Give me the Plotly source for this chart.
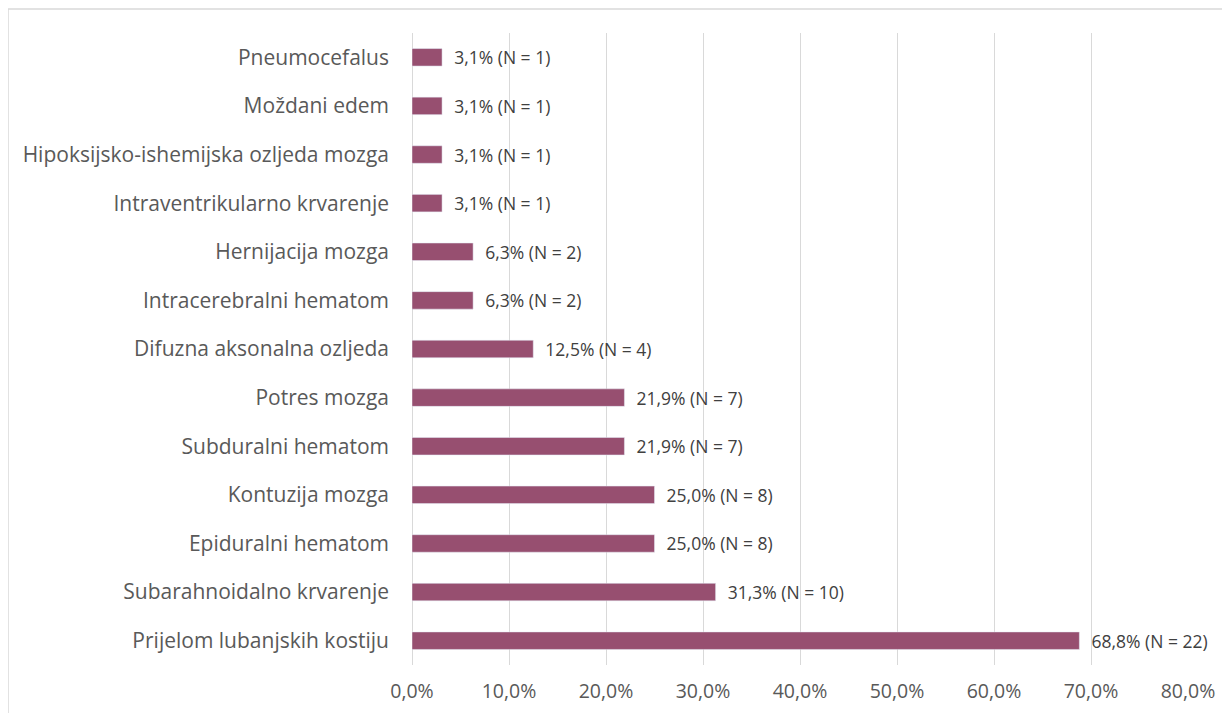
import plotly.graph_objects as go

# categories top to bottom
categories = [
    "Pneumocefalus",
    "Moždani edem",
    "Hipoksijsko-ishemijska ozljeda mozga",
    "Intraventrikularno krvarenje",
    "Hernijacija mozga",
    "Intracerebralni hematom",
    "Difuzna aksonalna ozljeda",
    "Potres mozga",
    "Subduralni hematom",
    "Kontuzija mozga",
    "Epiduralni hematom",
    "Subarahnoidalno krvarenje",
    "Prijelom lubanjskih kostiju",
]
percent = [3.1, 3.1, 3.1, 3.1, 6.3, 6.3, 12.5, 21.9, 21.9, 25.0, 25.0, 31.3, 68.8]
counts = [1, 1, 1, 1, 2, 2, 4, 7, 7, 8, 8, 10, 22]

labels = ["\u00a0\u00a0" + f"{p:.1f}".replace(".", ",") + f"% (N = {n})"
          for p, n in zip(percent, counts)]

# page body has an 8px margin, so the figure is shifted by 8px
fig = go.Figure(go.Bar(
    x=percent,
    y=categories,
    orientation="h",
    marker=dict(color="#974f70"),
    width=0.36,
    text=labels,
    textposition="outside",
    constraintext="none",
    textfont=dict(size=17.5, color="#404040"),
    cliponaxis=False,
    hoverinfo="skip",
))

fig.update_layout(
    width=1222,
    height=705,
    margin=dict(l=404, r=42, t=25, b=48, autoexpand=False),
    paper_bgcolor="white",
    plot_bgcolor="white",
    font=dict(family="Open Sans, sans-serif", color="#595959"),
    separators=", ",
    showlegend=False,
    xaxis=dict(
        range=[0, 80],
        dtick=10,
        tickformat=".1f",
        ticksuffix="%",
        showgrid=True,
        gridcolor="#d9d9d9",
        gridwidth=1,
        zeroline=True,
        zerolinecolor="#d9d9d9",
        zerolinewidth=1,
        showline=False,
        ticks="",
        automargin=False,
        ticklabelstandoff=12,
        tickfont=dict(size=19.5, color="#595959"),
    ),
    yaxis=dict(
        autorange="reversed",
        showgrid=False,
        showline=False,
        ticks="",
        automargin=False,
        ticklabelstandoff=22,
        tickfont=dict(size=21, color="#595959"),
    ),
    shapes=[
        dict(type="line", xref="paper", yref="paper",
             x0=(0 - 404) / 776, x1=1.1, y0=1 + 24 / 632, y1=1 + 24 / 632,
             line=dict(color="#d9d9d9", width=1.5)),
        dict(type="line", xref="paper", yref="paper",
             x0=(0 - 404) / 776, x1=(0 - 404) / 776, y0=1 + 24 / 632, y1=-0.1,
             line=dict(color="#d9d9d9", width=1.5)),
    ],
)

fig.write_html("out.html")
